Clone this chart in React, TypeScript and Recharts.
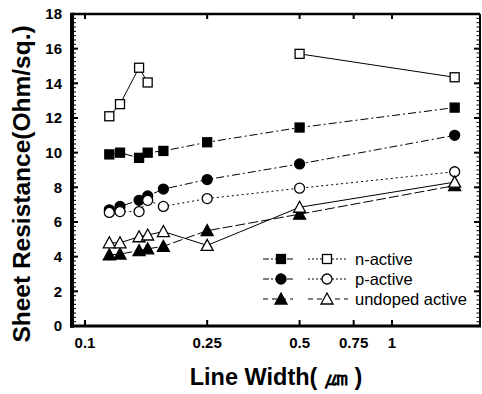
import { LineChart, Line, XAxis, YAxis } from 'recharts'

const widths = [0.12, 0.13, 0.15, 0.16, 0.18, 0.25, 0.5, 1.6]
const nActiveFilled = [9.9, 10.0, 9.7, 10.0, 10.1, 10.6, 11.45, 12.6]
const nActiveOpen = [12.1, 12.8, 14.9, 14.05, null, null, 15.7, 14.35]
const pActiveFilled = [6.7, 6.9, 7.25, 7.5, 7.9, 8.45, 9.35, 11.0]
const pActiveOpen = [6.55, 6.6, 6.6, 7.25, 6.9, 7.35, 7.95, 8.9]
const undopedFilled = [4.1, 4.15, 4.35, 4.45, 4.6, 5.5, 6.45, 8.1]
const undopedOpen = [4.8, 4.8, 5.15, 5.25, 5.45, 4.65, 6.85, 8.3]

const xTicks = [0.1, 0.25, 0.5, 0.75, 1]
const yTicks = [0, 2, 4, 6, 8, 10, 12, 14, 16, 18]
const yMinor = Array.from({ length: 73 }, (_, i) => i * 0.25)
const xDomain = [0.0907, 1.935]
const yDomain = [0, 18]

const data = widths.map((w, i) => ({
  w,
  nf: nActiveFilled[i],
  no: nActiveOpen[i],
  pf: pActiveFilled[i],
  po: pActiveOpen[i],
  uf: undopedFilled[i],
  uo: undopedOpen[i],
}))

const FONT = "Arial, 'Liberation Sans', sans-serif"

// chart layout
const W = 482
const H = 394
const M = { top: 14, right: 2, bottom: 0, left: 0 }
const Y_AXIS_W = 72
const X_AXIS_H = 68
const plot = {
  left: M.left + Y_AXIS_W,
  right: W - M.right,
  top: M.top,
  bottom: H - M.bottom - X_AXIS_H,
}

type Shape = 'square' | 'circle' | 'triangle'

function Marker({ cx, cy, shape, filled }: { cx: number; cy: number; shape: Shape; filled: boolean }) {
  const fill = filled ? '#000' : '#fff'
  const sw = 1.3
  if (shape === 'square') {
    return <rect x={cx - 4.5} y={cy - 4.5} width={9} height={9} fill={fill} stroke="#000" strokeWidth={sw} />
  }
  if (shape === 'circle') {
    return <circle cx={cx} cy={cy} r={5} fill={fill} stroke="#000" strokeWidth={sw} />
  }
  return (
    <polygon
      points={`${cx},${cy - 6} ${cx + 6},${cy + 5} ${cx - 6},${cy + 5}`}
      fill={fill}
      stroke="#000"
      strokeWidth={sw}
    />
  )
}

const dotFor = (shape: Shape, filled: boolean) => (props: any) => {
  const { cx, cy, index } = props
  if (cx == null || cy == null || props.value == null) return <g key={`e${index}`} />
  return <Marker key={`m${index}`} cx={cx} cy={cy} shape={shape} filled={filled} />
}

const legendRows: { label: string; shape: Shape; dashA: string; dashB: string }[] = [
  { label: 'n-active', shape: 'square', dashA: '6 2 2 2', dashB: '2 2' },
  { label: 'p-active', shape: 'circle', dashA: '6 2 2 2', dashB: '2 2' },
  { label: 'undoped active', shape: 'triangle', dashA: '5 4', dashB: '5 4' },
]

function LegendBox() {
  return (
    <svg width={215} height={66} style={{ position: 'absolute', left: 263, top: 250 }}>
      {legendRows.map((r, i) => {
        const y = 9 + i * 20
        return (
          <g key={r.label}>
            <line x1={0} x2={30} y1={y} y2={y} stroke="#000" strokeWidth={1} strokeDasharray={r.dashA} />
            <Marker cx={18} cy={y} shape={r.shape} filled />
            <line x1={45} x2={85} y1={y} y2={y} stroke="#000" strokeWidth={1} strokeDasharray={r.dashB} />
            <Marker cx={64} cy={y} shape={r.shape} filled={false} />
            <text x={92} y={y + 6} fontSize={16.5} fontFamily={FONT} fill="#000">
              {r.label}
            </text>
          </g>
        )
      })}
    </svg>
  )
}

// axis frame with inward ticks (same log / linear mapping as the chart axes)
const sx = (v: number) =>
  plot.left + ((plot.right - plot.left) * Math.log(v / xDomain[0])) / Math.log(xDomain[1] / xDomain[0])
const sy = (v: number) => plot.bottom - ((plot.bottom - plot.top) * (v - yDomain[0])) / (yDomain[1] - yDomain[0])

const Bar = ({ x, y, w, h }: { x: number; y: number; w: number; h: number }) => (
  <rect x={x} y={y} width={w} height={h} fill="#000" stroke="none" />
)

function Frame() {
  const { left, right, top, bottom } = plot
  return (
    <svg width={W} height={H} style={{ position: 'absolute', left: 0, top: 0, pointerEvents: 'none' }}>
      {yMinor.map((t) => (
        <g key={`m${t}`}>
          <Bar x={left} y={sy(t) - 0.5} w={4} h={1} />
          <Bar x={right - 3.5} y={sy(t) - 0.5} w={3.5} h={1} />
        </g>
      ))}
      {yTicks.map((t) => (
        <g key={`y${t}`}>
          <Bar x={left} y={sy(t) - 1} w={6} h={2} />
          <Bar x={right - 6} y={sy(t) - 1} w={6} h={2} />
        </g>
      ))}
      {xTicks.map((t) => (
        <g key={`x${t}`}>
          <Bar x={sx(t) - 1} y={bottom - 6} w={2} h={6} />
          <Bar x={sx(t) - 1} y={top} w={2} h={5} />
        </g>
      ))}
      <Bar x={left} y={top - 1.25} w={right - left} h={2.5} />
      <Bar x={right - 1} y={top} w={2} h={bottom - top} />
      <Bar x={left - 2} y={top - 1.25} w={4} h={bottom - top + 3} />
      <Bar x={left - 2} y={bottom - 1.5} w={right - left + 3} h={3} />
    </svg>
  )
}

const tickFont = { fontSize: 15, fontWeight: 700, fill: '#000', fontFamily: FONT }

function YLabel(props: any) {
  const vb = props.viewBox
  const x = vb.x + 21
  const y = vb.y + vb.height / 2 + 14
  return (
    <text
      x={x}
      y={y}
      transform={`rotate(-90 ${x} ${y})`}
      textAnchor="middle"
      dominantBaseline="central"
      fontSize={24.5}
      fontWeight={700}
      fontFamily={FONT}
      fill="#000"
    >
      Sheet Resistance(Ohm/sq.)
    </text>
  )
}

export default function App() {
  return (
    <div style={{ width: W, height: H, position: 'absolute', left: 0, top: 0, background: '#fff' }}>
      <LineChart width={W} height={H} data={data} margin={M}>
        <XAxis
          dataKey="w"
          type="number"
          scale="log"
          domain={xDomain}
          allowDataOverflow
          ticks={xTicks}
          tickFormatter={(v: number) => String(v)}
          height={X_AXIS_H}
          axisLine={false}
          tickLine={false}
          tickSize={-5}
          tickMargin={16}
          tick={tickFont}
          label={{
            value: 'Line Width( ㎛  )',
            position: 'insideBottom',
            offset: 9,
            style: { fontSize: 23.5, fontWeight: 700, fill: '#000', fontFamily: FONT },
          }}
        />
        <YAxis
          type="number"
          domain={yDomain}
          ticks={yTicks}
          width={Y_AXIS_W}
          axisLine={false}
          tickLine={false}
          tickSize={-5}
          tickMargin={15}
          tick={tickFont}
          label={{ content: YLabel }}
        />
        <Line dataKey="nf" stroke="#000" strokeWidth={1} strokeDasharray="8 3 2 3" dot={dotFor('square', true)} isAnimationActive={false} />
        <Line dataKey="no" stroke="#000" strokeWidth={1} dot={dotFor('square', false)} isAnimationActive={false} />
        <Line dataKey="pf" stroke="#000" strokeWidth={1} strokeDasharray="8 3 2 3" dot={dotFor('circle', true)} isAnimationActive={false} />
        <Line dataKey="po" stroke="#000" strokeWidth={1} strokeDasharray="2 3" dot={dotFor('circle', false)} isAnimationActive={false} />
        <Line dataKey="uf" stroke="#000" strokeWidth={1} strokeDasharray="10 3" dot={dotFor('triangle', true)} isAnimationActive={false} />
        <Line dataKey="uo" stroke="#000" strokeWidth={1} dot={dotFor('triangle', false)} isAnimationActive={false} />
      </LineChart>
      <Frame />
      <LegendBox />
    </div>
  )
}
